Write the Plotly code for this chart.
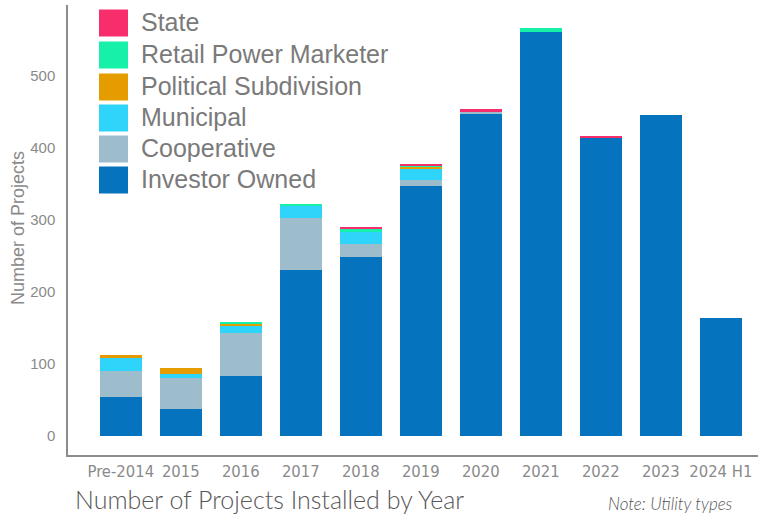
import plotly.graph_objects as go

# Installation years (categories along the x axis)
years = ["Pre-2014", "2015", "2016", "2017", "2018", "2019",
         "2020", "2021", "2022", "2023", "2024 H1"]

# Projects by utility type, listed in stacking order (bottom to top)
investor_owned = [54, 37, 83, 231, 249, 347, 447, 561, 415, 446, 164]
cooperative    = [36, 43, 60, 72, 17, 9, 3, 0, 0, 0, 0]
municipal      = [18, 6, 11, 17, 18, 15, 0, 0, 0, 0, 0]
political_sub  = [5, 8, 2, 0, 0, 2, 0, 0, 0, 0, 0]
retail_power   = [0, 0, 2, 2, 4, 3, 0, 5, 0, 0, 0]
state          = [0, 0, 0, 0, 2, 2, 4, 0, 2, 0, 0]

series_names = ["Investor Owned", "Cooperative", "Municipal",
                "Political Subdivision", "Retail Power Marketer", "State"]
series_values = [investor_owned, cooperative, municipal,
                 political_sub, retail_power, state]
series_colors = ["#0673BE", "#9DBDCC", "#2FD4FA",
                 "#E59C00", "#17F0A8", "#F72D6C"]

y_ticks = [0, 100, 200, 300, 400, 500]

W, H = 769, 514
PL, PR, PT, PB = 68, 758, 5, 455  # plot area edges in pixels

def px_x(px):
    return (px - PL) / (PR - PL)

def px_y(py):
    return (PB - py) / (PB - PT)

fig = go.Figure()
for name, vals, col in zip(series_names, series_values, series_colors):
    fig.add_trace(go.Bar(
        x=years, y=vals, name=name, width=0.7,
        marker=dict(color=col, line=dict(width=0)),
        showlegend=False,
    ))

grey = "#8a8a8a"
fig.update_layout(
    width=W, height=H,
    margin=dict(l=PL, r=W - PR, t=PT, b=H - PB, pad=0),
    barmode="stack",
    plot_bgcolor="white", paper_bgcolor="white",
    font=dict(family="Arial, Liberation Sans, sans-serif", color=grey),
    xaxis=dict(
        type="category", range=[-0.88, 10.62],
        showline=True, linecolor="#8c8c8c", linewidth=1.5,
        showgrid=False, zeroline=False, ticks="",
        tickangle=0, automargin=False,
        tickfont=dict(family="DejaVu Sans Condensed, Liberation Sans Narrow, Arial",
                      size=16.5, color=grey),
        ticklabelstandoff=0,
    ),
    yaxis=dict(
        range=[-26.4, 598.6],
        tickvals=y_ticks,
        showline=True, linecolor="#8c8c8c", linewidth=1.5,
        showgrid=False, zeroline=False, ticks="",
        automargin=False,
        tickfont=dict(size=15, color=grey),
        ticklabelstandoff=8,
    ),
)

# Legend drawn as large swatches with labels, top entry first
legend_rows = [23, 55, 87, 118, 149, 180]
for cy, name, col in zip(legend_rows, series_names[::-1], series_colors[::-1]):
    fig.add_shape(type="rect", xref="paper", yref="paper",
                  x0=px_x(99), x1=px_x(128),
                  y0=px_y(cy + 13.5), y1=px_y(cy - 13.5),
                  fillcolor=col, line=dict(width=0))
    fig.add_annotation(text=name, xref="paper", yref="paper",
                       x=px_x(139), y=px_y(cy - 1), xanchor="left", yanchor="middle",
                       showarrow=False,
                       font=dict(family="Arial, Liberation Sans", size=25, color="#7a7a7a"))

# Axis title
fig.add_annotation(text="Number of Projects", xref="paper", yref="paper",
                   x=px_x(18), y=px_y(228), textangle=-90,
                   xanchor="center", yanchor="middle", showarrow=False,
                   font=dict(size=18, color=grey))

# Caption and note below the chart
fig.add_annotation(text="Number of Projects Installed by Year",
                   xref="paper", yref="paper", x=px_x(73), y=px_y(499),
                   xanchor="left", yanchor="middle", showarrow=False,
                   font=dict(family="Lato, Open Sans", size=25, weight=300,
                             color="#575757"))
fig.add_annotation(text="<i>Note: Utility types</i>",
                   xref="paper", yref="paper", x=px_x(606), y=px_y(503),
                   xanchor="left", yanchor="middle", showarrow=False,
                   font=dict(family="Lato, Open Sans", size=17, weight=300,
                             color="#555555"))

fig.write_html("out.html")
